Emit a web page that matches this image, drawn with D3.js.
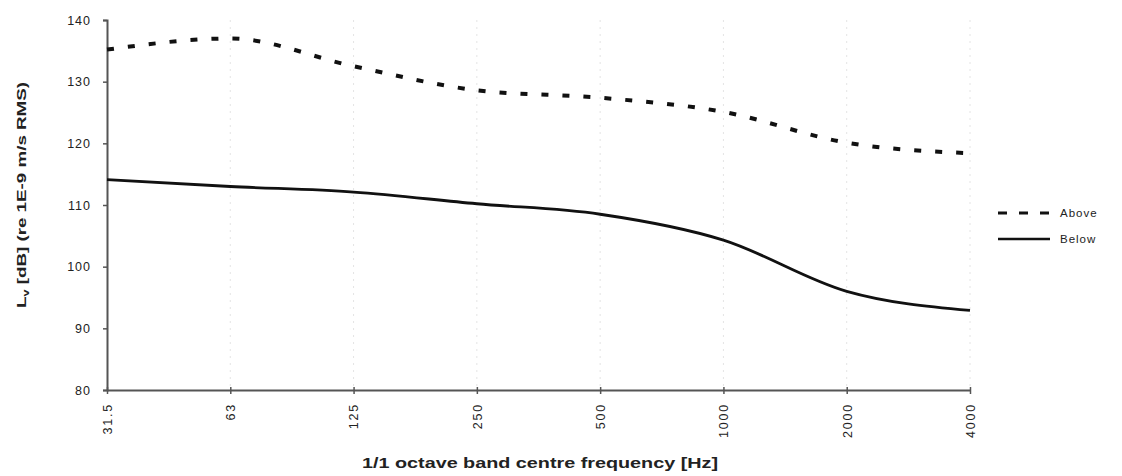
<!DOCTYPE html>
<html>
<head>
<meta charset="utf-8">
<script src="https://cdn.jsdelivr.net/npm/d3@7"></script>
<style>
  body { margin: 0; background: #fff; }
  svg text { font-family: "Liberation Sans", Arial, sans-serif; fill: #222; }
</style>
</head>
<body>
<svg id="chart" width="1122" height="476"></svg>
<script>
// chart data
var bands = ["31.5", "63", "125", "250", "500", "1000", "2000", "4000"];
var above = [135.2, 137.0, 132.5, 128.6, 127.4, 125.1, 120.1, 118.4];
var below = [114.1, 113.0, 112.1, 110.2, 108.5, 104.3, 96.0, 92.9];
var yTicks = [80, 90, 100, 110, 120, 130, 140];
var seriesNames = ["Above", "Below"];

var svg = d3.select("#chart");

// plot box (window.top is reserved, so use other names)
var plotLeft = 107, plotRight = 970, plotTop = 20, plotBottom = 390;

var x = d3.scalePoint().domain(bands).range([plotLeft, plotRight]);
var y = d3.scaleLinear().domain([80, 140]).range([plotBottom, plotTop]);

// faint vertical grid
svg.append("g")
  .selectAll("line")
  .data(bands.slice(1))
  .enter().append("line")
    .attr("x1", function(d) { return x(d); })
    .attr("x2", function(d) { return x(d); })
    .attr("y1", plotTop)
    .attr("y2", plotBottom)
    .attr("stroke", "#e4e4e4")
    .attr("stroke-width", 1)
    .attr("stroke-dasharray", "2,5");

// y axis
var yAxis = svg.append("g")
  .attr("transform", "translate(" + plotLeft + ",0)")
  .call(d3.axisLeft(y).tickValues(yTicks).tickSize(4).tickPadding(12));
yAxis.select(".domain").attr("stroke", "#555").attr("stroke-width", 2);
yAxis.selectAll(".tick line").attr("stroke", "#555").attr("stroke-width", 1.5);
yAxis.selectAll("text")
  .attr("font-size", 12.5)
  .attr("letter-spacing", 1)
  .attr("fill", "#444");

// x axis
var xAxis = svg.append("g")
  .attr("transform", "translate(0," + plotBottom + ")")
  .call(d3.axisBottom(x).tickSize(4).tickSizeOuter(0));
xAxis.select(".domain").attr("stroke", "#555").attr("stroke-width", 2);
xAxis.selectAll(".tick line").attr("stroke", "#555").attr("stroke-width", 1.5)
  .attr("y1", -3);
xAxis.selectAll("text")
  .attr("font-size", 12.5)
  .attr("letter-spacing", 1.8)
  .attr("fill", "#444")
  .attr("transform", "rotate(-90)")
  .attr("text-anchor", "end")
  .attr("x", -13)
  .attr("y", 0)
  .attr("dy", "0.35em");

// lines
var line = d3.line()
  .x(function(d, i) { return x(bands[i]); })
  .y(function(d) { return y(d); })
  .curve(d3.curveMonotoneX);

svg.append("path")
  .datum(above)
  .attr("fill", "none")
  .attr("stroke", "#111")
  .attr("stroke-width", 4)
  .attr("stroke-dasharray", "7,14")
  .attr("d", line);

svg.append("path")
  .datum(below)
  .attr("fill", "none")
  .attr("stroke", "#111")
  .attr("stroke-width", 2.8)
  .attr("d", line);

// axis titles
svg.append("text")
  .attr("transform", "translate(26,195) rotate(-90)")
  .attr("text-anchor", "middle")
  .attr("font-size", 13.5)
  .attr("font-weight", "bold")
  .attr("fill", "#333")
  .attr("textLength", 226)
  .attr("lengthAdjust", "spacingAndGlyphs")
  .html("L<tspan font-size='9' dy='3'>v</tspan><tspan dy='-3'> [dB] (re 1E-9 m/s RMS)</tspan>");

svg.append("text")
  .attr("x", 540)
  .attr("y", 468)
  .attr("text-anchor", "middle")
  .attr("font-size", 14)
  .attr("font-weight", "bold")
  .attr("fill", "#333")
  .attr("textLength", 356)
  .attr("lengthAdjust", "spacingAndGlyphs")
  .text("1/1 octave band centre frequency [Hz]");

// legend
var legend = svg.append("g").attr("transform", "translate(998,213)");
legend.selectAll("line")
  .data(seriesNames)
  .enter().append("line")
    .attr("x1", 0).attr("x2", 52)
    .attr("y1", function(d, i) { return i * 26; })
    .attr("y2", function(d, i) { return i * 26; })
    .attr("stroke", "#111")
    .attr("stroke-width", function(d, i) { return i === 0 ? 3 : 2.5; })
    .attr("stroke-dasharray", function(d, i) { return i === 0 ? "9,12" : null; });
legend.selectAll("text")
  .data(seriesNames)
  .enter().append("text")
    .attr("x", 62)
    .attr("y", function(d, i) { return i * 26; })
    .attr("dy", "0.35em")
    .attr("font-size", 11.5)
    .attr("letter-spacing", 1)
    .attr("fill", "#444")
    .text(function(d) { return d; });
</script>
</body>
</html>
